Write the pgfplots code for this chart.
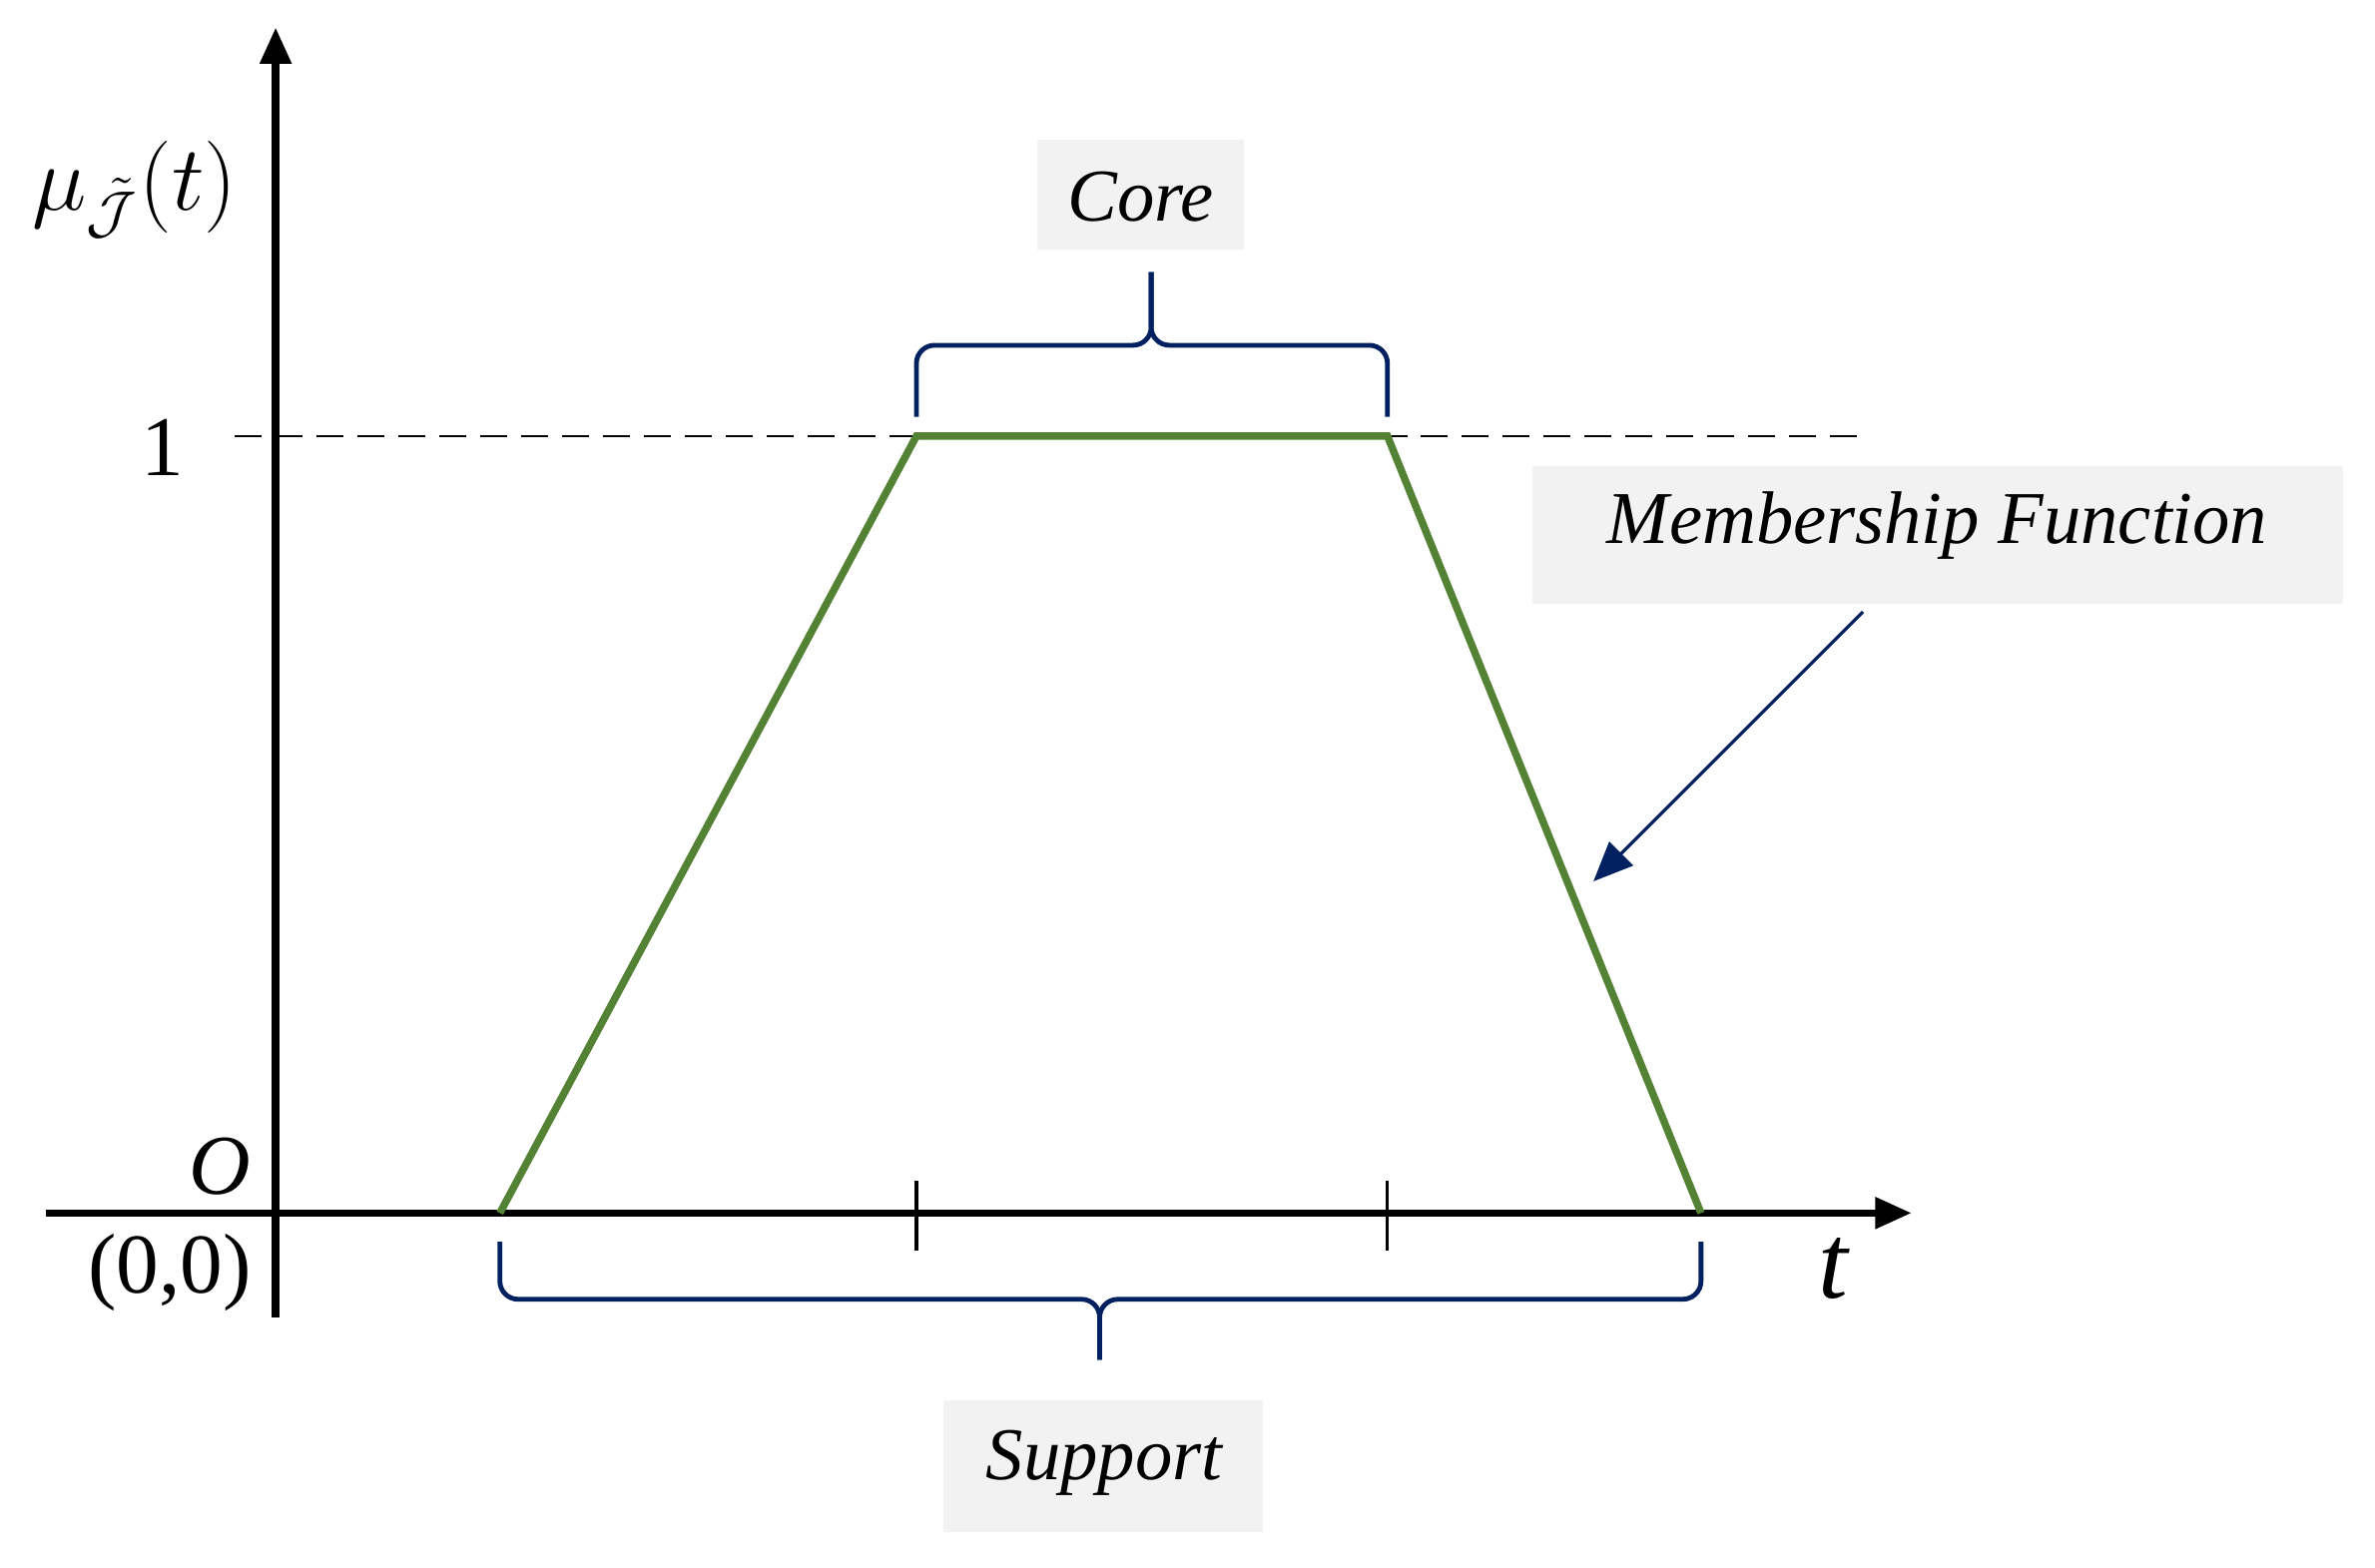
\documentclass[border=0pt]{standalone}
\usepackage{pgfplots}
\pgfplotsset{compat=1.18}
\usepackage{fontspec}
\setmainfont{Liberation Serif}
\usetikzlibrary{arrows.meta}

\definecolor{mfgreen}{HTML}{548235}
\definecolor{navy}{HTML}{002060}
\definecolor{boxgray}{HTML}{F2F2F2}

\begin{document}
\begin{tikzpicture}
  \begin{axis}[
      scale only axis,
      width=15.68cm, height=10.35cm,
      xmin=-1.82, xmax=13.86,
      ymin=-0.4561, ymax=1.5614,
      hide axis, clip=false,
    ]
    % axes
    \draw[line width=1.4pt, -{Triangle[length=2.4mm, width=2mm]}]
      (axis cs:0,-0.1345) -- (axis cs:0,1.526);
    \draw[line width=1.4pt, -{Triangle[length=2.4mm, width=2mm]}]
      (axis cs:-1.52,0) -- (axis cs:10.80,0);
    % level 1 reference
    \draw[black, line width=0.5pt, dash pattern=on 1.8mm off 0.9mm]
      (axis cs:-0.27,1) -- (axis cs:10.50,1);
    % ticks at the core ends
    \draw[line width=0.6pt] (axis cs:4.23,0.041) -- (axis cs:4.23,-0.049);
    \draw[line width=0.6pt] (axis cs:7.34,0.041) -- (axis cs:7.34,-0.049);

    % trapezoidal membership function
    \addplot[mfgreen, line width=1.4pt, mark=none] coordinates {
      (1.48,0) (4.23,1) (7.34,1) (9.41,0)};

    % core brace
    \draw[navy, line width=0.9pt, rounded corners=1.2mm]
      (axis cs:4.23,1.025) -- (axis cs:4.23,1.117) -- (axis cs:5.78,1.117) -- (axis cs:5.78,1.211);
    \draw[navy, line width=0.9pt, rounded corners=1.2mm]
      (axis cs:7.34,1.025) -- (axis cs:7.34,1.117) -- (axis cs:5.78,1.117) -- (axis cs:5.78,1.211);
    % support brace
    \draw[navy, line width=0.9pt, rounded corners=1.2mm]
      (axis cs:1.48,-0.037) -- (axis cs:1.48,-0.111) -- (axis cs:5.44,-0.111) -- (axis cs:5.44,-0.189);
    \draw[navy, line width=0.9pt, rounded corners=1.2mm]
      (axis cs:9.41,-0.037) -- (axis cs:9.41,-0.111) -- (axis cs:5.44,-0.111) -- (axis cs:5.44,-0.189);

    % label boxes
    \fill[boxgray] (axis cs:5.03,1.240) rectangle (axis cs:6.39,1.382);
    \fill[boxgray] (axis cs:4.41,-0.2417) rectangle (axis cs:6.52,-0.4113);
    \fill[boxgray] (axis cs:8.30,0.7836) rectangle (axis cs:13.65,0.961);
    \node[font=\fontsize{14}{16}\selectfont\itshape] at (axis cs:5.71,1.308) {Core};
    \node[font=\fontsize{14}{16}\selectfont\itshape] at (axis cs:5.47,-0.322) {Support};
    \node[font=\fontsize{14}{16}\selectfont\itshape] at (axis cs:10.97,0.885) {Membership Function};

    % pointer
    \draw[navy, line width=0.6pt, -{Triangle[length=2.6mm, width=2.2mm]}]
      (axis cs:10.48,0.7739) -- (axis cs:8.70,0.4269);

    % axis annotations
    \node[font=\fontsize{16}{18}\selectfont] at (axis cs:-0.93,1.318) {$\mu_{\tilde{\mathcal{J}}}(t)$};
    \node[font=\fontsize{16}{18}\selectfont] at (axis cs:-0.75,0.985) {1};
    \node[font=\fontsize{16}{18}\selectfont\itshape] at (axis cs:-0.37,0.06) {O};
    \node[font=\fontsize{16}{18}\selectfont] at (axis cs:-0.70,-0.076) {(0,0)};
    \node[font=\fontsize{20}{22}\selectfont\itshape] at (axis cs:10.28,-0.072) {t};
  \end{axis}
  \pgfresetboundingbox
  \path[use as bounding box] (current axis.south west) rectangle (current axis.north east);
\end{tikzpicture}
\end{document}
